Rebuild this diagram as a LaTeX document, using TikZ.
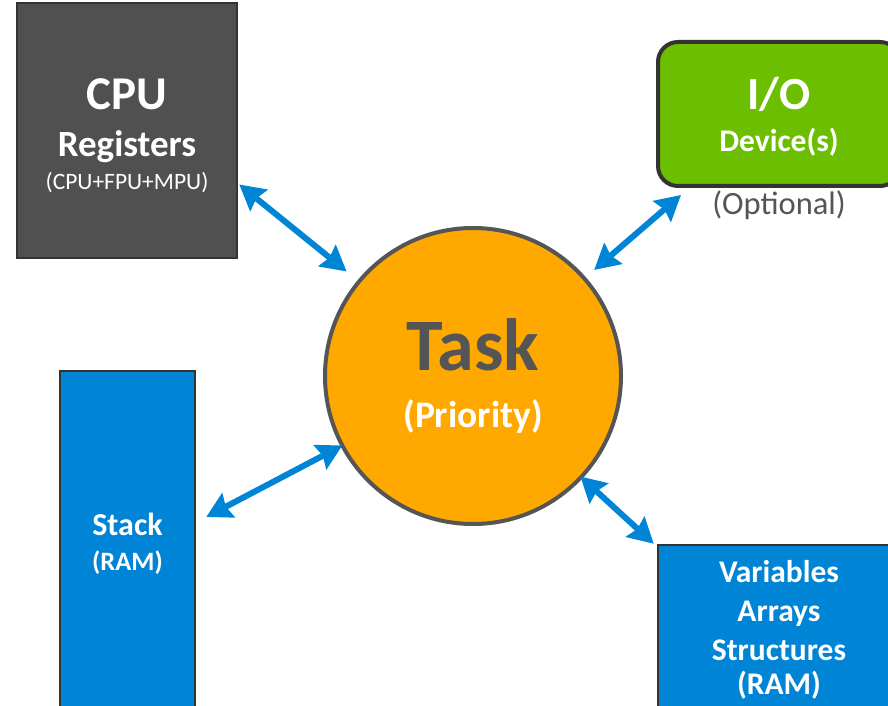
\documentclass[tikz,border=0pt]{standalone}
\usepackage{fontspec}
\setmainfont{Carlito}
\usetikzlibrary{arrows.meta,calc}
\definecolor{cpugray}{HTML}{505050}
\definecolor{edgegray}{HTML}{333333}
\definecolor{iogreen}{HTML}{6BBE00}
\definecolor{ramblue}{HTML}{0084D6}
\definecolor{taskorange}{HTML}{FFA800}
\definecolor{textgray}{HTML}{555555}
\newcommand{\fsz}[1]{\fontsize{#1}{#1}\selectfont}
\begin{document}
\begin{tikzpicture}[x=1pt,y=1pt,
  box/.style={draw=edgegray, line width=2.5pt, inner sep=0pt},
  lbl/.style={anchor=base, text=white, font=\bfseries, inner sep=0pt},
  biarrow/.style={draw=ramblue, line width=6pt, {Stealth[length=25pt,width=27pt,inset=3pt]}-{Stealth[length=25pt,width=27pt,inset=3pt]}}]
\clip (0,0) rectangle (888,705);

% CPU register block
\node[box, fill=cpugray, minimum width=220pt, minimum height=255pt] (cpu) at (127,574.5) {};
\node[lbl] (cpuA) at (127,595) {\fsz{47}CPU};
\node[lbl] (cpuB) at (127,548) {\fsz{37}Registers};
\node[lbl, font=\mdseries] (cpuC) at (127,515) {\fsz{23.5}(CPU+FPU+MPU)};

% I/O device block
\node[draw=edgegray, line width=4pt, fill=iogreen, rounded corners=20pt, inner sep=0pt,
      minimum width=242pt, minimum height=144pt] (io) at (779,591) {};
\node[lbl] (ioA) at (779,595) {\fsz{46}I/O};
\node[lbl] (ioB) at (779,553) {\fsz{31.5}Device(s)};
\node[anchor=base, inner sep=0pt, text=textgray] (opt) at (779,490) {\fsz{32.5}(Optional)};

% Task circle
\node[circle, draw=textgray, line width=4pt, fill=taskorange, minimum size=296pt, inner sep=0pt] (task) at (473,329) {};
\node[lbl, text=textgray] (taskA) at (473,335) {\fsz{74}Task};
\node[lbl] (taskB) at (473,278) {\fsz{37.5}(Priority)};

% Stack block
\node[box, fill=ramblue, minimum width=135pt, minimum height=338pt] (stack) at (127.5,165) {};
\node[lbl] (stackA) at (127.5,170) {\fsz{32}Stack};
\node[lbl] (stackB) at (127.5,135) {\fsz{26.5}(RAM)};

% Data block
\node[box, fill=ramblue, minimum width=242pt, minimum height=200pt] (data) at (779,60) {};
\node[lbl] (dataA) at (779,123) {\fsz{31.5}Variables};
\node[lbl] (dataB) at (779,84) {\fsz{31.5}Arrays};
\node[lbl] (dataC) at (779,45) {\fsz{31.5}Structures};
\node[lbl] (dataD) at (779,11) {\fsz{31.5}(RAM)};

% Connections to the task
\draw[biarrow] ($(cpu.east)+(1,-54)$) -- ($(task.center)+(140.4:164)$);
\draw[biarrow] ($(io.south west)+(25,-7)$) -- ($(task.center)+(41.2:161)$);
\draw[biarrow] ($(stack.east)+(10,23)$) -- ($(task.center)+(208:148)$);
\draw[biarrow] ($(data.north west)+(-3,0)$) -- ($(task.center)+(-43.1:147)$);
\end{tikzpicture}
\end{document}
